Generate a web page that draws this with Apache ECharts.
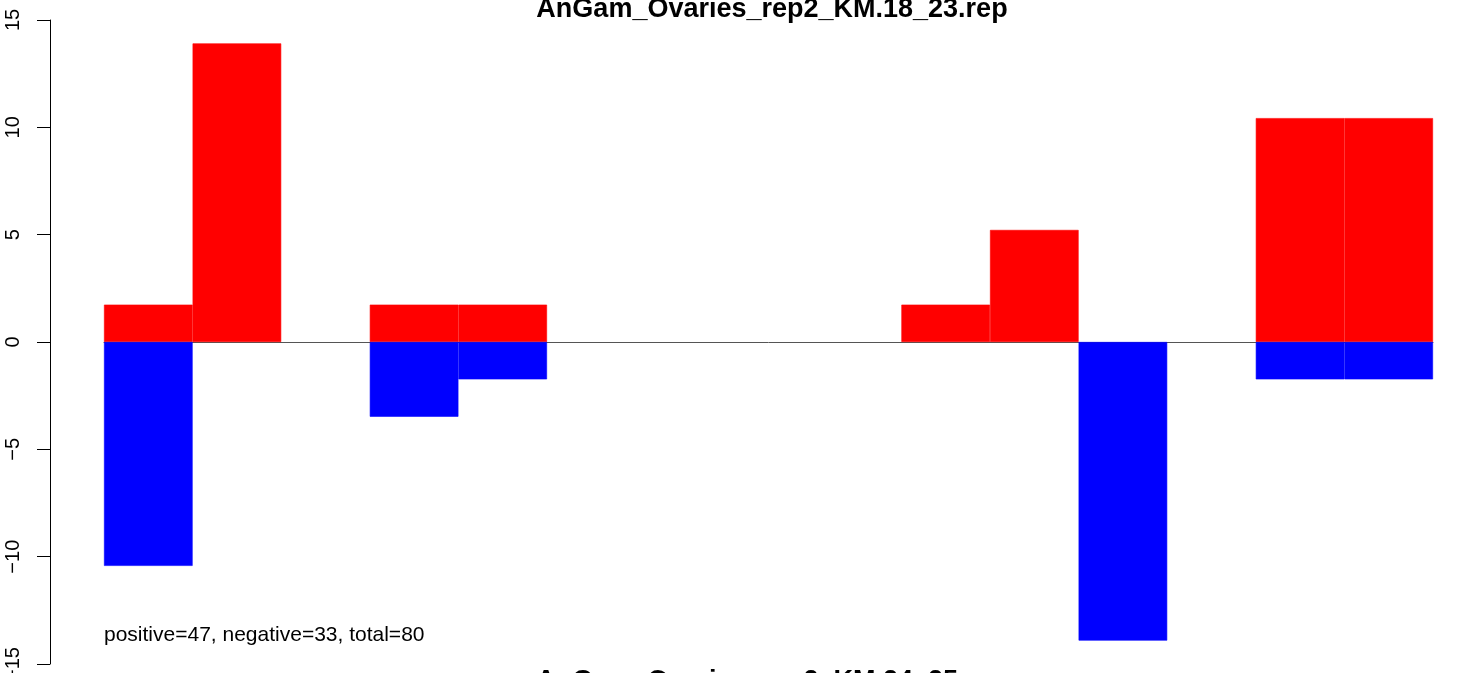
<!DOCTYPE html>
<html>
<head>
<meta charset="utf-8">
<script src="https://cdn.jsdelivr.net/npm/echarts@6/dist/echarts.min.js"></script>
<style>
html,body{margin:0;padding:0;background:#fff;}
#chart{width:1470px;height:673px;}
</style>
</head>
<body>
<div id="chart"></div>
<script>
const categories = ['1','2','3','4','5','6','7','8','9','10','11','12','13','14','15'];
const positiveValues = [1.74, 13.91, 0, 1.74, 1.74, 0, 0, 0, 0, 1.74, 5.22, 0, 0, 10.43, 10.43];
const negativeValues = [-10.43, 0, 0, -3.48, -1.74, 0, 0, 0, 0, 0, 0, -13.91, 0, -1.74, -1.74];
const yTicks = { min: -15, max: 15, interval: 5 };
const titleTop = 'AnGam_Ovaries_rep2_KM.18_23.rep';
const titleBottom = 'AnGam_Ovaries_rep2_KM.24_25.rep';
const annotation = 'positive=47, negative=33, total=80';

const chart = echarts.init(document.getElementById('chart'), null, {renderer: 'canvas'});
const font = 'Liberation Sans, Arial, Helvetica, sans-serif';
const nz = arr => arr.map(v => (v === 0 ? null : v));
chart.setOption({
  animation: false,
  backgroundColor: '#ffffff',
  grid: { left: 104, right: 37, top: 20, bottom: 9, containLabel: false, outerBoundsMode: 'none' },
  xAxis: {
    type: 'category',
    data: categories,
    boundaryGap: true,
    axisLine: { show: true, onZero: true, lineStyle: { color: '#555555', width: 1 } },
    axisTick: { show: false },
    axisLabel: { show: false },
    splitLine: { show: false }
  },
  yAxis: {
    type: 'value',
    min: yTicks.min, max: yTicks.max, interval: yTicks.interval,
    offset: 54,
    axisLine: { show: true, lineStyle: { color: '#000', width: 1 } },
    axisTick: { show: true, length: 13, lineStyle: { color: '#000', width: 1 } },
    axisLabel: { show: true, rotate: 90, margin: 27, color: '#000', fontSize: 20, fontFamily: font,
      formatter: v => (v < 0 ? '\u2212' + Math.abs(v) : String(v)) },
    splitLine: { show: false }
  },
  series: [
    { type: 'bar', data: nz(positiveValues), barWidth: '100%', barGap: '-100%',
      itemStyle: { color: '#ff0000', borderColor: '#ff0000', borderWidth: 0.6 } },
    { type: 'bar', data: nz(negativeValues), barWidth: '100%', barGap: '-100%',
      itemStyle: { color: '#0000ff', borderColor: '#0000ff', borderWidth: 0.6 } }
  ],
  graphic: [
    { type: 'text', x: 772, y: 9.5, silent: true,
      style: { text: titleTop, fill: '#000', font: 'bold 27px ' + font, align: 'center', verticalAlign: 'middle' } },
    { type: 'text', x: 772, y: 681.5, silent: true,
      style: { text: titleBottom, fill: '#000', font: 'bold 27px ' + font, align: 'center', verticalAlign: 'middle' } },
    { type: 'text', x: 104, y: 635.6, silent: true,
      style: { text: annotation, fill: '#000', font: '21px ' + font, align: 'left', verticalAlign: 'middle' } }
  ]
});
</script>
</body>
</html>
